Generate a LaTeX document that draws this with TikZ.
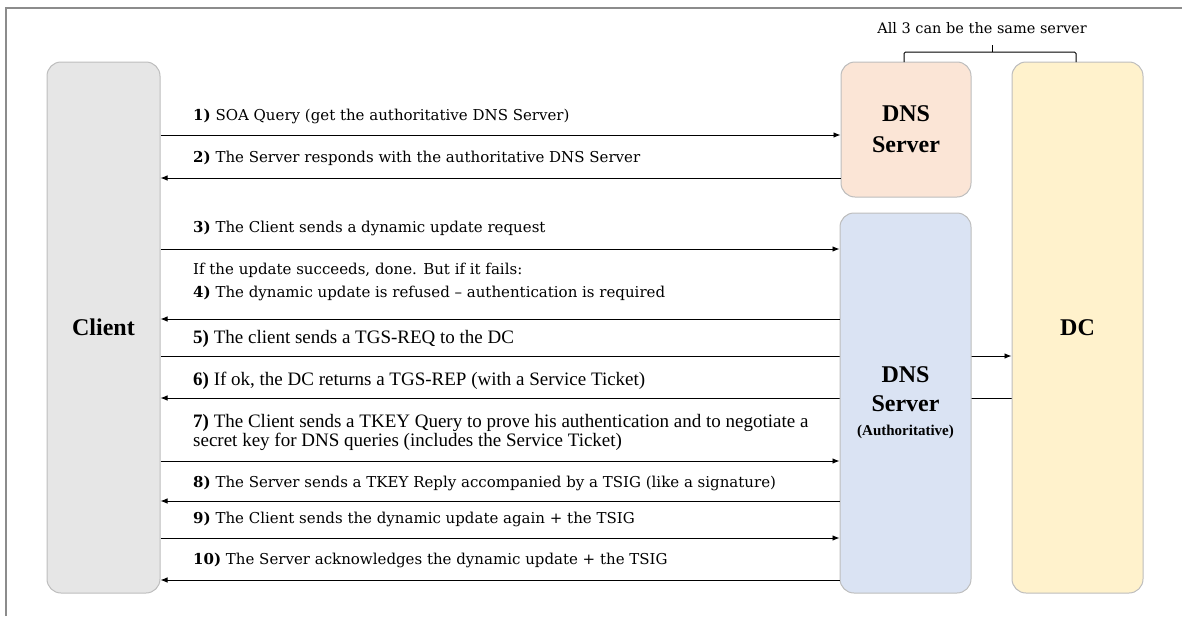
\documentclass[tikz,border=0pt]{standalone}
\usepackage{fontspec}
\setmainfont{Liberation Serif}
\newfontfamily\labfont{DejaVu Serif}
\usetikzlibrary{arrows.meta}
\pgfdeclarelayer{background}
\pgfsetlayers{background,main}

\definecolor{clientfill}{HTML}{E6E6E6}
\definecolor{dnsfill}{HTML}{FBE5D6}
\definecolor{authfill}{HTML}{DAE3F3}
\definecolor{dcfill}{HTML}{FFF2CC}
\definecolor{boxline}{HTML}{BDBDBD}
\definecolor{framegray}{HTML}{8C8C8C}

\tikzset{
  party/.style={draw=boxline, line width=1pt, rounded corners=14pt,
    align=center, inner sep=0pt, font=\bfseries\fontsize{24}{31}\selectfont},
  msg/.style={draw=black, line width=0.9pt, -{Latex[length=7pt,width=5.5pt]}},
  lab/.style={anchor=base west, inner sep=0pt, font=\labfont\fontsize{15}{17}\selectfont},
  labt/.style={anchor=base west, inner sep=0pt, font=\fontsize{19}{19}\selectfont},
  bracket/.style={draw=black, line width=1pt, rounded corners=1.5pt}
}

\begin{document}
\begin{tikzpicture}[x=1pt,y=-1pt]
\useasboundingbox (0,0) rectangle (1182,616);

% outer frame (top and left edges fall inside the page)
\draw[framegray, line width=1.6pt] (6,616) -- (6,8) -- (1182,8);

% participants
\node[party, fill=clientfill, minimum width=113pt, minimum height=531pt] (client) at (103.5,327.5) {Client};
\node[party, fill=dnsfill, minimum width=130pt, minimum height=135pt] (dns) at (906,129.5) {DNS\\Server};
\node[party, fill=authfill, minimum width=131pt, minimum height=380pt] (auth) at (905.5,403)
  {DNS\\[-2pt]Server\\[-7pt]{\fontsize{15}{17}\selectfont(Authoritative)}};
\node[party, fill=dcfill, minimum width=131pt, minimum height=531pt] (dc) at (1077.5,327.5) {DC};

% bracket over the three servers
\coordinate (brl) at (904,62);
\coordinate (brr) at (1076,62);
\coordinate (brt) at (992,45);
\draw[bracket] (brl) -- (904,52) -- (1076,52) -- (brr);
\draw[bracket] (992,52) -- (brt);
\node[inner sep=0pt, anchor=base, font=\labfont\fontsize{14.5}{17}\selectfont] (note) at (982,33) {All 3 can be the same server};

% messages
\draw[msg] (client.east |- 0,135) -- (dns.west |- 0,135);
\node[lab] (l1) at (193,120) {\textbf{1)} SOA Query (get the authoritative DNS Server)};

\draw[msg] (dns.west |- 0,178) -- (client.east |- 0,178);
\node[lab] (l2) at (193,162) {\textbf{2)} The Server responds with the authoritative DNS Server};

\draw[msg] (client.east |- 0,249) -- (auth.west |- 0,249);
\node[lab] (l3) at (193,232) {\textbf{3)} The Client sends a dynamic update request};

\node[lab] (l4a) at (193,274) {If the update succeeds, done. But if it fails:};
\node[lab] (l4b) at (193,297) {\textbf{4)} The dynamic update is refused – authentication is required};
\draw[msg] (auth.west |- 0,319) -- (client.east |- 0,319);

\begin{pgfonlayer}{background}
\draw[msg] (client.east |- 0,356) -- (dc.west |- 0,356);
\draw[msg] (dc.west |- 0,398) -- (client.east |- 0,398);
\end{pgfonlayer}
\node[labt] (l5) at (193,343) {\textbf{5)} The client sends a TGS-REQ to the DC};
\node[labt] (l6) at (193,385) {\textbf{6)} If ok, the DC returns a TGS-REP (with a Service Ticket)};

\node[labt] (l7a) at (193,427) {\textbf{7)} The Client sends a TKEY Query to prove his authentication and to negotiate a};
\node[labt] (l7b) at (193,446) {secret key for DNS queries (includes the Service Ticket)};
\draw[msg] (client.east |- 0,461) -- (auth.west |- 0,461);

\draw[msg] (auth.west |- 0,501) -- (client.east |- 0,501);
\node[lab] (l8) at (193,487) {\textbf{8)} The Server sends a TKEY Reply accompanied by a TSIG (like a signature)};

\draw[msg] (client.east |- 0,538) -- (auth.west |- 0,538);
\node[lab] (l9) at (193,523) {\textbf{9)} The Client sends the dynamic update again + the TSIG};

\draw[msg] (auth.west |- 0,580) -- (client.east |- 0,580);
\node[lab] (l10) at (193,564) {\textbf{10)} The Server acknowledges the dynamic update + the TSIG};
\end{tikzpicture}
\end{document}
